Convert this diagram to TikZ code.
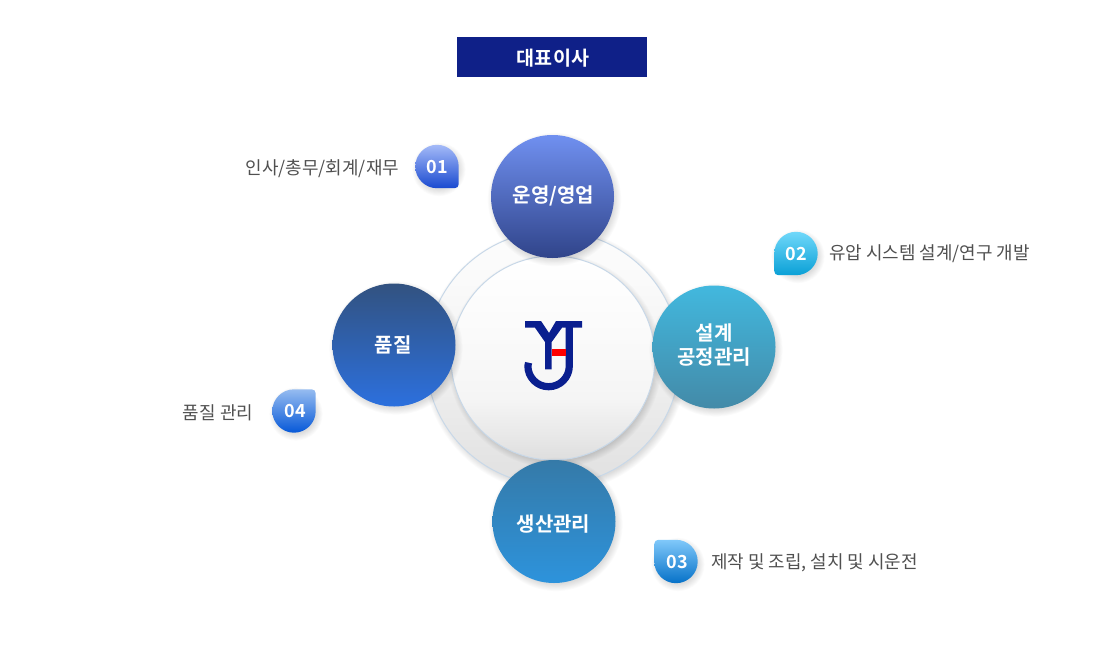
\documentclass[tikz,border=0pt]{standalone}
\usepackage{fontspec}
\setmainfont{Noto Sans CJK KR}
\newfontfamily\krbold{Noto Sans CJK KR Bold}
\definecolor{logoblue}{HTML}{0A1F8F}
\definecolor{boxblue}{HTML}{0F2088}
\definecolor{sidetext}{HTML}{505050}
\definecolor{ringline}{HTML}{C8D8E8}
\pgfdeclareverticalshading{ringshade}{100bp}{color(0bp)=(black!12); color(25bp)=(black!12); color(40bp)=(black!8); color(50bp)=(black!5); color(65bp)=(black!2); color(75bp)=(black!1); color(100bp)=(black!1)}
\pgfdeclareverticalshading{plateshade}{100bp}{color(0bp)=(black!13); color(25bp)=(black!13); color(31bp)=(black!9); color(40bp)=(black!4); color(50bp)=(black!2.5); color(65bp)=(black!1); color(75bp)=(white); color(100bp)=(white)}
\tikzset{every picture/.style={line width=0.75pt},
  sidelabel/.style={inner sep=0.75pt,text=sidetext,font=\fontsize{13.45}{15}\selectfont},
  ballabel/.style={inner sep=0.75pt,text=white,align=center,font=\krbold\fontsize{15}{18}\selectfont},
  numlabel/.style={inner sep=0.75pt,text=white,font=\krbold\fontsize{13.5}{15}\selectfont}}
% soft shadow under a round shape: x, y, radius
\newcommand{\softshadow}[3]{
  \foreach \k in {9,...,1}
    \fill [black,opacity=0.017] (#1+2,#2+3) circle ({#3+\k*0.9-3});
}
% drop: x, y, corner angle, top colour, bottom colour
\newcommand{\dropmark}[5]{
  \softshadow{#1}{#2}{21.5}
  \shade [top color=#4,bottom color=#5]
    (#1,#2) ++(#3+45:21.7) arc [start angle=#3+45,end angle=#3+315,radius=21.7]
    [rounded corners=3pt] -- ([shift={(#1,#2)}]#3:30.7) [sharp corners] -- cycle;
}

\begin{document}
\begin{tikzpicture}[x=0.75pt,y=0.75pt,yscale=-1,xscale=1]
\useasboundingbox (0,0) rectangle (1104,661);

%Title box
\fill [boxblue] (457,37) rectangle (647,77);
\draw (553,58) node (title) [inner sep=0.75pt,text=white,font=\krbold\fontsize{14.7}{16}\selectfont] {대표이사};

%Rings
\softshadow{553}{358}{127}
\shade [shading=ringshade,draw=ringline] (553,358) circle (127);
\softshadow{553}{358}{102}
\shade [shading=plateshade,draw=ringline] (553,358) circle (102);

%Logo
\fill [logoblue] (525,321) -- (541,321) -- (549,333) -- (556,321) -- (582,321) -- (582,327.7) -- (562,327.7) -- (551.7,342) -- (551.7,369.3) -- (545,369.3) -- (545,342) -- (535,327.7) -- (525,327.7) -- cycle;
\draw [logoblue,line width=5.4pt] (569.3,322) -- (569.3,366) arc [start angle=0,end angle=180,radius=20.7] -- (528.6,362.7);
\fill [red] (552,349) rectangle (565.7,356);

%Balls
\softshadow{552.5}{196.5}{61.5}
\shade [top color={rgb,255:red,112;green,144;blue,240},bottom color={rgb,255:red,48;green,68;blue,138}] (552.5,196.5) circle (61.5);
\softshadow{714}{347}{61.5}
\shade [top color={rgb,255:red,66;green,184;blue,222},bottom color={rgb,255:red,67;green,138;blue,168}] (714,347) circle (61.5);
\softshadow{554}{521.5}{61.5}
\shade [top color={rgb,255:red,53;green,122;blue,168},bottom color={rgb,255:red,45;green,147;blue,220}] (554,521.5) circle (61.5);
\softshadow{394}{345}{61.5}
\shade [top color={rgb,255:red,50;green,82;blue,128},bottom color={rgb,255:red,44;green,112;blue,222}] (394,345) circle (61.5);

%Drops
\dropmark{437}{166.5}{45}{{rgb,255:red,164;green,186;blue,248}}{{rgb,255:red,26;green,74;blue,208}}
\dropmark{796}{253.5}{135}{{rgb,255:red,112;green,216;blue,250}}{{rgb,255:red,10;green,160;blue,214}}
\dropmark{676}{561.5}{225}{{rgb,255:red,128;green,200;blue,250}}{{rgb,255:red,6;green,114;blue,200}}
\dropmark{294}{411}{315}{{rgb,255:red,150;green,188;blue,240}}{{rgb,255:red,6;green,88;blue,216}}

% Text Node
\draw (553.5,196) node (ballsales) [ballabel] {운영/영업};
\draw (714,345) node (balldesign) [ballabel] {설계\\공정관리};
\draw (553.5,524) node (ballmake) [ballabel] {생산관리};
\draw (393,345) node (ballquality) [ballabel] {품질};
% Text Node
\draw (437,167) node (numa) [numlabel] {01};
\draw (796.5,254) node (numb) [numlabel] {02};
\draw (677,562) node (numc) [numlabel] {03};
\draw (295,411) node (numd) [numlabel] {04};
% Text Node
\draw (400.5,169) node (sidea) [sidelabel,anchor=east] {인사/총무/회계/재무};
\draw (827.5,254) node (sideb) [sidelabel,anchor=west] {유압 시스템 설계/연구 개발};
\draw (709.5,563) node (sidec) [sidelabel,anchor=west] {제작 및 조립, 설치 및 시운전};
\draw (254.5,413) node (sided) [sidelabel,anchor=east] {품질 관리};

\end{tikzpicture}
\end{document}
